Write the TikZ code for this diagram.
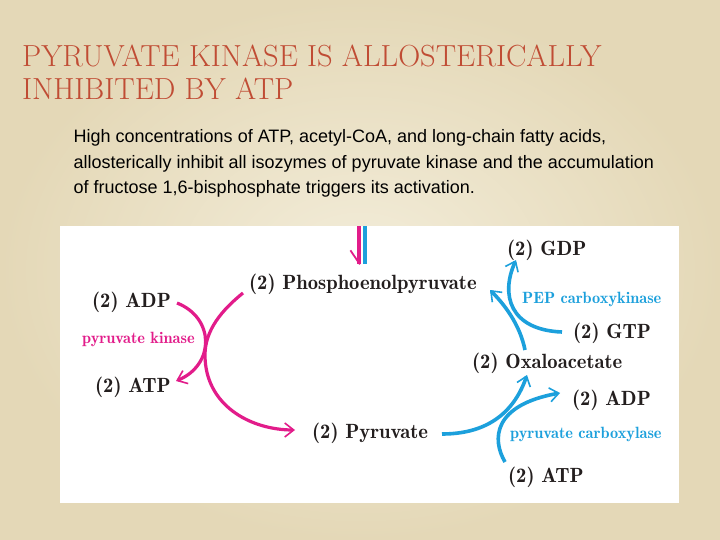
\documentclass[tikz,border=0pt]{standalone}
\usepackage{fontspec}
\newfontfamily\bodyfont{Liberation Sans}
\newfontfamily\demifont{lmromandemi10-regular.otf}
\usetikzlibrary{arrows.meta,calc}
\definecolor{bglight}{RGB}{243,237,218}
\definecolor{bgdark}{RGB}{228,216,183}
\definecolor{titlered}{RGB}{192,76,52}
\definecolor{pk}{RGB}{226,28,138}
\definecolor{pc}{RGB}{28,160,220}
\definecolor{ink}{RGB}{35,30,30}
\begin{document}
\begin{tikzpicture}[x=1pt,y=-1pt,
  lbl/.style={inner sep=0pt, anchor=base west, text=ink, font=\demifont\fontsize{20.6}{24}\selectfont},
  enz/.style={inner sep=0pt, anchor=base west, font=\demifont\fontsize{16.3}{18}\selectfont},
  ttl/.style={inner sep=0pt, anchor=base west, text=titlered, font=\fontsize{30.5}{34}\selectfont},
  bodyline/.style={inner sep=0pt, anchor=base west, text=black, font=\bodyfont\fontsize{18}{22}\selectfont},
  barb/.style={-{Straight Barb[length=9pt,width=14pt,line width=1.6pt]}},
  marr/.style={draw=pk, line width=3.2pt, barb},
  barr/.style={draw=pc, line width=3.6pt, barb}]
% background
\shade[inner color=bglight, outer color=bgdark] (0,0) rectangle (720,540);
\useasboundingbox (0,0) rectangle (720,540);
% title and text
\node[ttl] (title1) at (22,67) {\scalebox{1.0}[1]{PYRUVATE KINASE IS ALLOSTERICALLY}};
\node[ttl] (title2) at (22,100) {\scalebox{1.0}[1]{INHIBITED BY ATP}};
\node[bodyline] (body1) at (73.5,143) {High concentrations of ATP, acetyl-CoA, and long-chain fatty acids,};
\node[bodyline] (body2) at (73.5,169) {allosterically inhibit all isozymes of pyruvate kinase and the accumulation};
\node[bodyline] (body3) at (73.5,194) {of fructose 1,6-bisphosphate triggers its activation.};
% panel
\fill[white] (60,226) rectangle (679,503);
% labels
\node[lbl] (pep) at (249,289) {(2) Phosphoenolpyruvate};
\node[lbl] (adpL) at (92,307) {(2) ADP};
\node[enz, text=pk] (pkin) at (82,343) {pyruvate kinase};
\node[lbl] (atpL) at (95,392) {(2) ATP};
\node[lbl] (pyr) at (312,438) {(2) Pyruvate};
\node[lbl] (gdp) at (507,255) {(2) GDP};
\node[enz, text=pc] (pepck) at (522,303) {PEP carboxykinase};
\node[lbl] (gtp) at (573,338) {(2) GTP};
\node[lbl] (oaa) at (472,368) {(2) Oxaloacetate};
\node[lbl] (adpR) at (572,405) {(2) ADP};
\node[enz, text=pc] (pcarb) at (510,438) {pyruvate carboxylase};
\node[lbl] (atpR) at (508,482) {(2) ATP};
% incoming double line
\coordinate (mtop) at ($(pep.north)+(-3.5,-47)$);
\coordinate (mbot) at ($(pep.north)+(-3.5,-9)$);
\coordinate (btop) at ($(pep.north)+(2.5,-47)$);
\coordinate (bbot) at ($(pep.north)+(2.5,-9)$);
\draw[pk, line width=4pt, line join=miter] (mtop) -- (mbot);
\draw[pk, line width=1.8pt] ($(mbot)+(-9,-14)$) -- ($(mbot)+(0.5,0)$);
\draw[pc, line width=4pt] (btop) -- (bbot);
% pyruvate kinase
\coordinate (k1) at ($(pep.base west)+(-6,4)$);
\coordinate (k2) at ($(pyr.base west)+(-17,-8)$);
\draw[marr] (k1) .. controls (222,310) and (205,330) .. (205,355)
   .. controls (205,405) and (250,430) .. (k2);
\coordinate (a1) at ($(adpL.base west)+(85,-4)$);
\coordinate (a2) at ($(atpL.base west)+(81,-11)$);
\draw[marr] (a1) .. controls (215,318) and (215,365) .. (a2);
% pyruvate carboxylase
\coordinate (c1) at ($(pyr.base west)+(130,-4)$);
\coordinate (c2) at ($(oaa.base west)+(55,7)$);
\draw[barr] (c1) .. controls (490,434) and (515,410) .. (c2);
\coordinate (d1) at ($(atpR.base west)+(-3,-20)$);
\coordinate (d2) at ($(adpR.base west)+(-12,-12)$);
\draw[barr] (d1) .. controls (492,440) and (492,405) .. (d2);
% PEP carboxykinase
\coordinate (e1) at ($(oaa.base west)+(53,-18)$);
\coordinate (e2) at ($(pep.base west)+(241,1)$);
\draw[barr] (e1) .. controls (520,325) and (505,305) .. (e2);
\coordinate (f1) at ($(gtp.base west)+(-11,-6)$);
\coordinate (f2) at ($(gdp.base west)+(9,5)$);
\draw[barr] (f1) .. controls (510,330) and (500,295) .. (f2);
\end{tikzpicture}
\end{document}
